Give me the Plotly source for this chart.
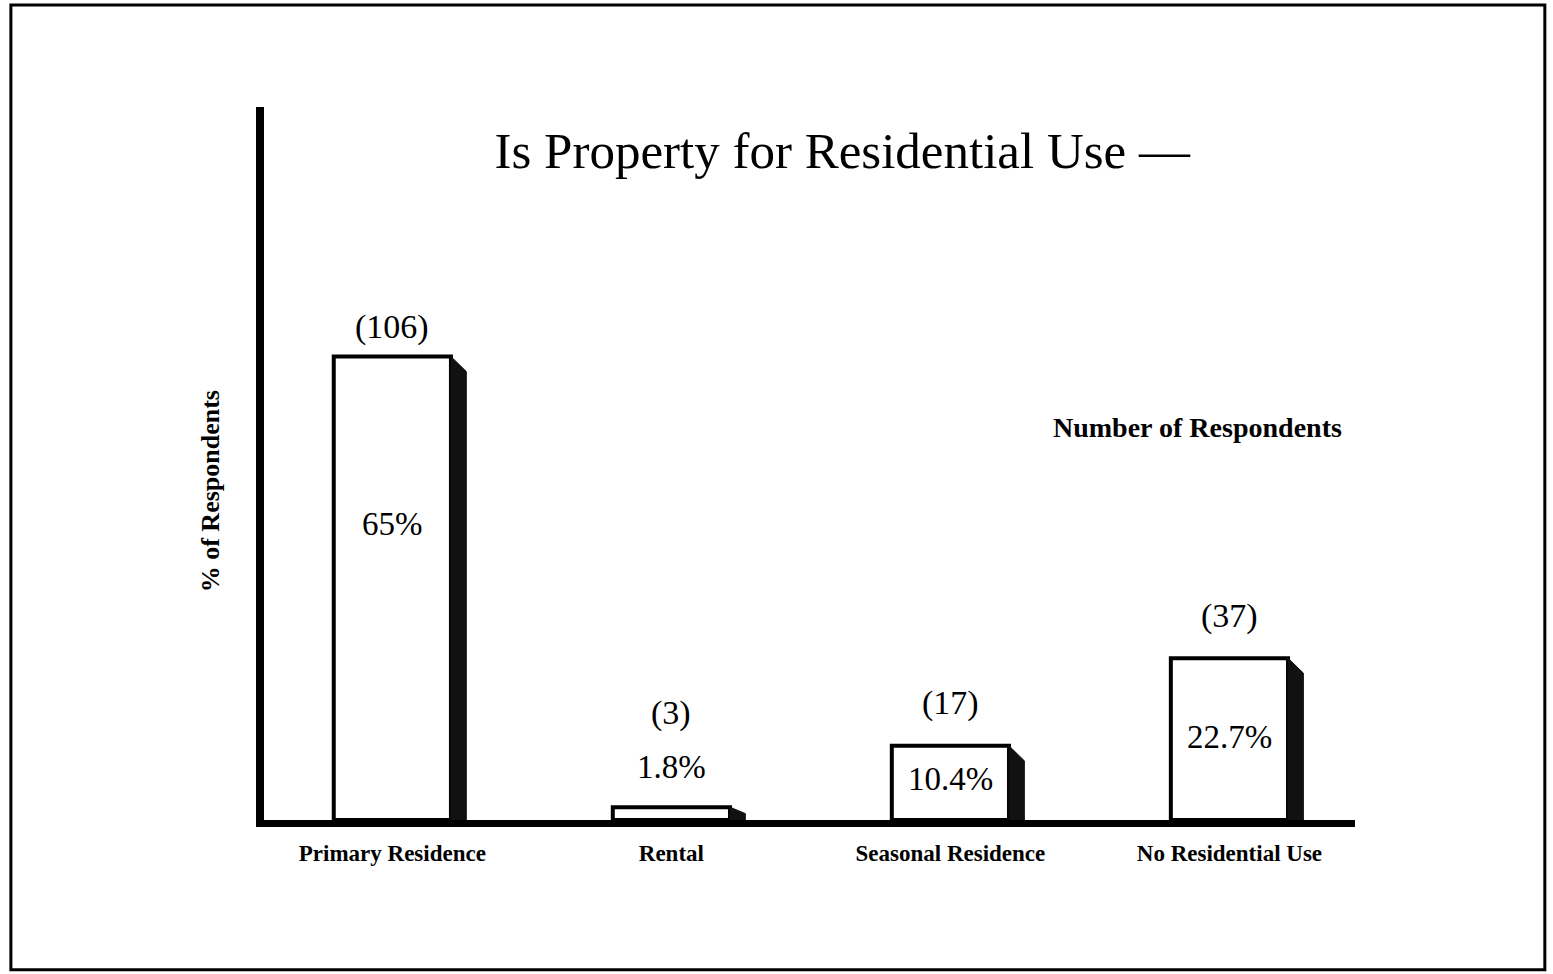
import plotly.graph_objects as go

categories = ["Primary Residence", "Rental", "Seasonal Residence", "No Residential Use"]
percent = [65, 1.8, 10.4, 22.7]
counts = [106, 3, 17, 37]
pct_labels = ["65%", "1.8%", "10.4%", "22.7%"]

SERIF = "Liberation Serif, DejaVu Serif, serif"
face_w = 0.42
side_w = 0.055

fig = go.Figure()

# front faces of the bars
fig.add_trace(go.Bar(
    x=list(range(len(categories))), y=percent, width=face_w,
    marker=dict(color="white", line=dict(color="black", width=4)),
    hoverinfo="skip", showlegend=False,
))

# dark side of each bar for the 3d look
for i, v in enumerate(percent):
    drop = min(2.1, v * 0.5)
    x0 = i + face_w / 2
    fig.add_trace(go.Scatter(
        x=[x0, x0, x0 + side_w, x0 + side_w, x0],
        y=[0, v, v - drop, 0, 0],
        fill="toself", fillcolor="#111", mode="lines",
        line=dict(color="#111", width=1),
        hoverinfo="skip", showlegend=False,
    ))

# percent labels (inside the bar, or above for the small one)
pct_y = [percent[0] / 2, percent[1], percent[2] / 2, percent[3] / 2]
pct_shift = [64, 40, 4, 2]
for i in range(len(categories)):
    fig.add_annotation(x=i, y=pct_y[i], text=pct_labels[i], showarrow=False,
                       yshift=pct_shift[i], yanchor="middle",
                       font=dict(family=SERIF, size=33, color="black"))

# respondent counts above the bars
cnt_shift = [30, 94, 43, 42]
for i in range(len(categories)):
    fig.add_annotation(x=i, y=percent[i], text=f"({counts[i]})", showarrow=False,
                       yshift=cnt_shift[i], yanchor="middle",
                       font=dict(family=SERIF, size=34, color="black"))

fig.add_annotation(x=0.856, y=0.55, xref="paper", yref="paper", xanchor="center",
                   text="<b>Number of Respondents</b>", showarrow=False,
                   font=dict(family=SERIF, size=28, color="black"))
fig.add_annotation(x=0, y=0.461, xref="paper", yref="paper", xshift=-54,
                   xanchor="center", yanchor="middle",
                   text="<b>% of Respondents</b>", textangle=-90, showarrow=False,
                   font=dict(family=SERIF, size=26, color="black"))

# page frame
fig.add_shape(type="rect", xref="paper", yref="paper",
              x0=-0.232, x1=1.174, y0=-0.210, y1=1.143,
              line=dict(color="black", width=3), layer="below")

fig.update_layout(
    width=1553, height=974,
    margin=dict(l=264, r=198, t=107, b=154),
    paper_bgcolor="white", plot_bgcolor="white",
    title=dict(text="Is Property for Residential Use —", x=0.53, xref="paper",
               xanchor="center", y=1 - 150 / 974, yanchor="middle",
               font=dict(family=SERIF, size=51, color="black")),
    xaxis=dict(range=[-0.46, 3.45], tickmode="array",
               tickvals=list(range(len(categories))),
               ticktext=[f"<b>{c}</b>" for c in categories],
               showline=True, linecolor="black", linewidth=7, ticks="",
               ticklabelstandoff=6,
               showgrid=False, zeroline=False,
               tickfont=dict(family=SERIF, size=23, color="black")),
    yaxis=dict(range=[0, 100], showline=True, linecolor="black", linewidth=8,
               showticklabels=False, ticks="", showgrid=False, zeroline=False),
)

fig.write_html("out.html", config={"displayModeBar": False},
               post_script="document.body.style.margin='0px';")
